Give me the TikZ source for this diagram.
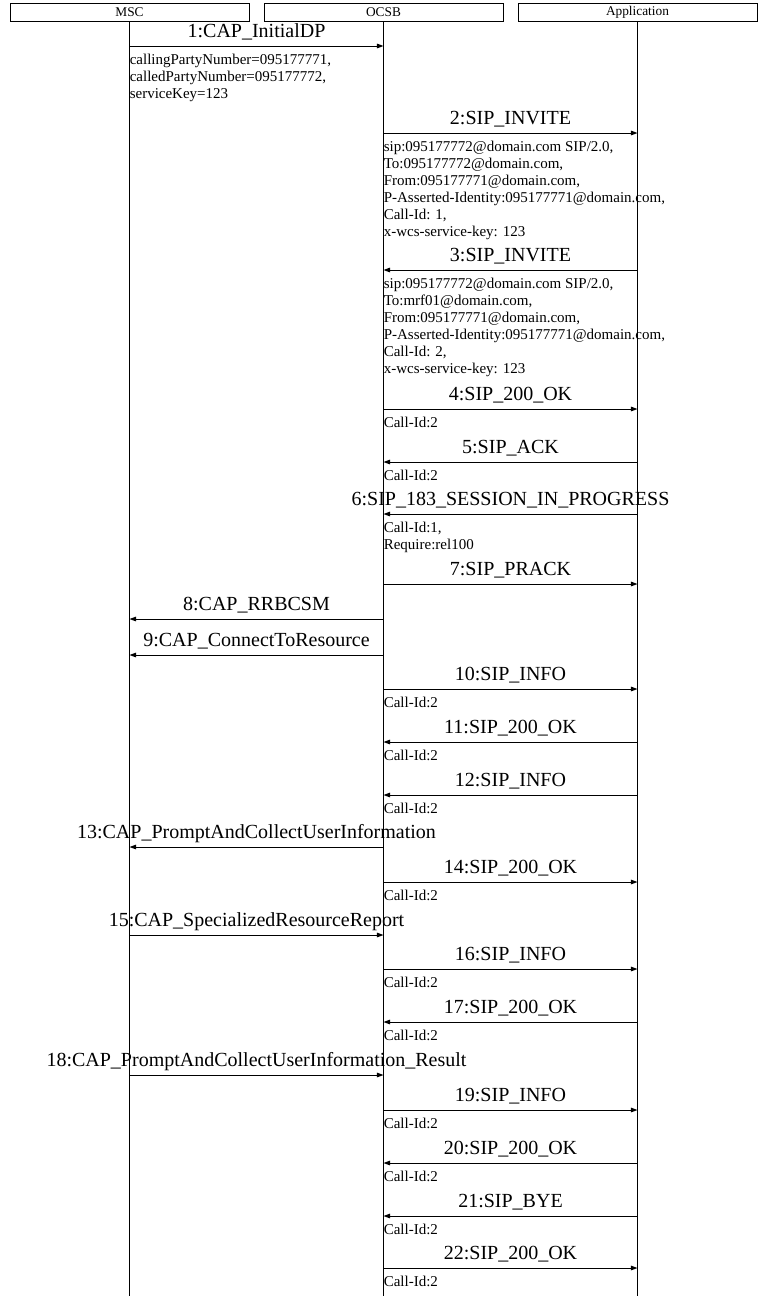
\documentclass[tikz,border=0pt]{standalone}
\usepackage{fontspec}
\setmainfont{Liberation Serif}
\usetikzlibrary{arrows.meta}

\begin{document}
\begin{tikzpicture}[
            x=0.75pt, y=-0.75pt,
            actor/.style={draw, line width=0.75pt, minimum width=179.25pt, minimum height=13.5pt, inner sep=0pt, font=\fontsize{10}{12}\selectfont},
            lifeline/.style={line width=0.75pt},
            msg/.style={-{Triangle[length=5pt, width=3.5pt]}, line width=0.75pt},
            msglabel/.style={anchor=base, yshift=6.5pt, inner sep=0pt, font=\fontsize{15}{18}\selectfont},
            params/.style={anchor=north west, yshift=-5.5pt, inner sep=0pt, align=left, font=\fontsize{11.25}{12.75}\selectfont},
        ]
            \useasboundingbox (0,0) rectangle (770,1296);

            % --- Cabeceras y lineas de vida ---
            \node[actor] (msc) at (129.5,12) {MSC};
            \node[actor] (ocsb) at (383.5,12) {OCSB};
            \node[actor] (app) at (637.5,12) {Application};
            \foreach \a in {msc, ocsb, app} {
                \draw[lifeline] (\a.south) -- (\a.south |- 0,1296);
            }

            % --- Mensajes ---
            \foreach \y/\a/\b/\txt [count=\i] in {
                46/msc/ocsb/{1:CAP\_InitialDP},
                133/ocsb/app/{2:SIP\_INVITE},
                270/app/ocsb/{3:SIP\_INVITE},
                409/ocsb/app/{4:SIP\_200\_OK},
                462/app/ocsb/{5:SIP\_ACK},
                514/app/ocsb/{6:SIP\_183\_SESSION\_IN\_PROGRESS},
                584/ocsb/app/{7:SIP\_PRACK},
                619/ocsb/msc/{8:CAP\_RRBCSM},
                655/ocsb/msc/{9:CAP\_ConnectToResource},
                689/ocsb/app/{10:SIP\_INFO},
                742/app/ocsb/{11:SIP\_200\_OK},
                795/app/ocsb/{12:SIP\_INFO},
                847/ocsb/msc/{13:CAP\_PromptAndCollectUserInformation},
                882/ocsb/app/{14:SIP\_200\_OK},
                935/msc/ocsb/{15:CAP\_SpecializedResourceReport},
                969/ocsb/app/{16:SIP\_INFO},
                1022/app/ocsb/{17:SIP\_200\_OK},
                1075/msc/ocsb/{18:CAP\_PromptAndCollectUserInformation\_Result},
                1110/ocsb/app/{19:SIP\_INFO},
                1163/app/ocsb/{20:SIP\_200\_OK},
                1216/app/ocsb/{21:SIP\_BYE},
                1268/ocsb/app/{22:SIP\_200\_OK}} {
                \coordinate (from\i) at (\a |- 0,\y);
                \coordinate (to\i) at (\b |- 0,\y);
                \draw[msg] (from\i) -- node[msglabel] (label\i) {\txt} (to\i);
            }

            % --- Parametros de los mensajes ---
            \foreach \n/\l/\txt in {
                1/msc/{callingPartyNumber=095177771,\\calledPartyNumber=095177772,\\serviceKey=123},
                2/ocsb/{sip:095177772@domain.com SIP/2.0,\\To:095177772@domain.com,\\From:095177771@domain.com,\\P-Asserted-Identity:095177771@domain.com,\\Call-Id: 1,\\x-wcs-service-key: 123},
                3/ocsb/{sip:095177772@domain.com SIP/2.0,\\To:mrf01@domain.com,\\From:095177771@domain.com,\\P-Asserted-Identity:095177771@domain.com,\\Call-Id: 2,\\x-wcs-service-key: 123},
                4/ocsb/{Call-Id:2},
                5/ocsb/{Call-Id:2},
                6/ocsb/{Call-Id:1,\\Require:rel100},
                10/ocsb/{Call-Id:2},
                11/ocsb/{Call-Id:2},
                12/ocsb/{Call-Id:2},
                14/ocsb/{Call-Id:2},
                16/ocsb/{Call-Id:2},
                17/ocsb/{Call-Id:2},
                19/ocsb/{Call-Id:2},
                20/ocsb/{Call-Id:2},
                21/ocsb/{Call-Id:2},
                22/ocsb/{Call-Id:2}} {
                \node[params] (param\n) at (\l |- from\n) {\txt};
            }
        \end{tikzpicture}
\end{document}
